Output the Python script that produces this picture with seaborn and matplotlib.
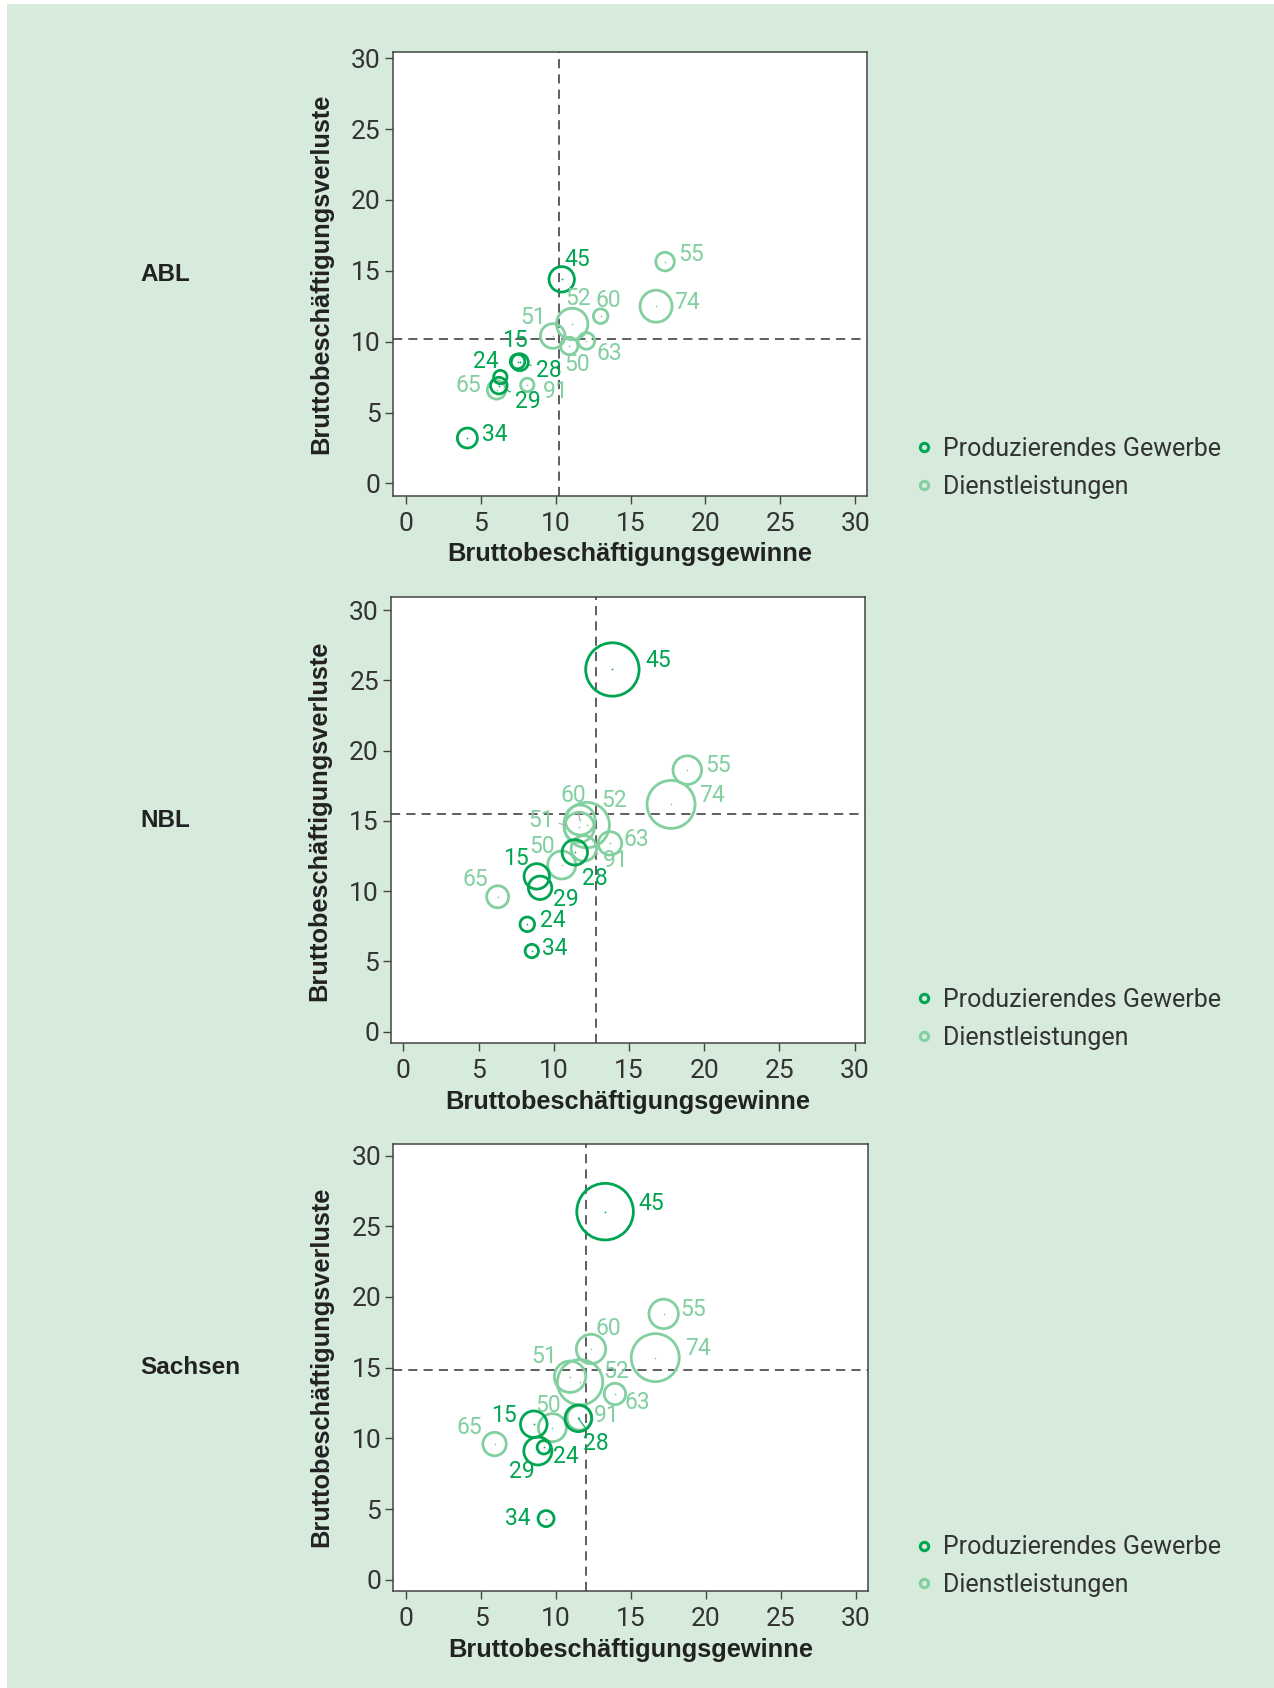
import numpy as np
import pandas as pd
import matplotlib.pyplot as plt
import seaborn as sns
from matplotlib.lines import Line2D
from matplotlib.patches import Rectangle

# WZ-Abteilungen und Sektorzuordnung
codes = ["15", "24", "28", "29", "34", "45", "50", "51", "52", "55", "60", "63", "65", "74", "91"]
sektor = ["Produzierendes Gewerbe"] * 6 + ["Dienstleistungen"] * 9

# ABL
abl_gewinne = [7.45, 6.3, 7.6, 6.2, 4.1, 10.4, 10.9, 9.8, 11.1, 17.3, 13.0, 12.05, 6.05, 16.7, 8.1]
abl_verluste = [8.6, 7.5, 8.55, 6.9, 3.2, 14.4, 9.7, 10.4, 11.25, 15.65, 11.8, 10.05, 6.6, 12.5, 6.95]
abl_gewicht = [7.3, 6.7, 8.5, 8.3, 10.0, 12.7, 8.7, 12.3, 15.7, 9.3, 7.3, 8.3, 9.3, 16.0, 6.7]
abl_mittel = (10.2, 10.2)

# NBL
nbl_gewinne = [8.87, 8.24, 11.4, 9.09, 8.54, 13.9, 10.53, 11.7, 12.19, 18.88, 11.75, 13.74, 6.27, 17.8, 12.0]
nbl_verluste = [11.05, 7.64, 12.76, 10.24, 5.74, 25.77, 11.86, 14.54, 14.7, 18.61, 15.06, 13.4, 9.6, 16.17, 13.04]
nbl_gewicht = [12.7, 7.3, 12.7, 11.7, 6.7, 26.7, 14.0, 15.0, 22.7, 14.3, 15.0, 11.7, 11.0, 24.0, 12.7]
nbl_mittel = (12.8, 15.5)

# Sachsen
sn_gewinne = [8.51, 9.18, 11.49, 8.78, 9.33, 13.27, 9.75, 10.93, 11.6, 17.18, 12.33, 13.93, 5.89, 16.62, 11.55]
sn_verluste = [11.0, 9.37, 11.42, 9.11, 4.33, 26.03, 10.76, 14.36, 13.97, 18.8, 16.32, 13.14, 9.6, 15.71, 11.46]
sn_gewicht = [13.3, 6.7, 13.3, 14.0, 8.0, 28.3, 14.0, 15.7, 22.7, 14.7, 14.7, 10.7, 11.7, 24.0, 12.3]
sn_mittel = (12.0, 14.85)

DUNKEL = "#00a551"
HELL = "#82cfa0"
farben = {"Produzierendes Gewerbe": DUNKEL, "Dienstleistungen": HELL}
HINTERGRUND = "#d7ebdd"

# Beschriftungs-Versatz in Pixeln: (dx, dy, ha, Hinweislinie)
lab_abl = {"15": (-3, 21, "center", False), "24": (-2, 16, "right", True), "28": (16, -8, "left", True),
           "29": (16, -16, "left", True), "34": (15, 4, "left", False), "45": (3, 20, "left", False),
           "50": (-5, -19, "left", False), "51": (-7, 19, "right", False), "52": (-7, 25, "left", False),
           "55": (13, 7, "left", False), "60": (-5, 16, "left", False), "63": (10, -13, "left", False),
           "65": (-15, 4, "right", False), "74": (18, 4, "left", False), "91": (16, -7, "left", False)}
lab_nbl = {"15": (-8, 18, "right", False), "24": (13, 4, "left", False), "28": (7, -26, "left", True),
           "29": (13, -12, "left", False), "34": (10, 3, "left", False), "45": (33, 9, "left", False),
           "50": (-7, 18, "right", False), "51": (-25, 7, "right", True), "52": (15, 25, "left", False),
           "55": (18, 5, "left", False), "60": (-7, 25, "center", True), "63": (14, 4, "left", False),
           "65": (-9, 17, "right", False), "74": (28, 9, "left", False), "91": (19, -12, "left", True)}
lab_sn = {"15": (-17, 9, "right", False), "24": (9, -9, "left", False), "28": (5, -25, "left", True),
          "29": (-16, -21, "center", False), "34": (-15, 0, "right", False), "45": (33, 8, "left", False),
          "50": (-4, 22, "center", False), "51": (-13, 20, "right", False), "52": (23, 11, "left", False),
          "55": (17, 4, "left", False), "60": (4, 21, "left", False), "63": (10, -9, "left", False),
          "65": (-12, 17, "right", False), "74": (30, 9, "left", False), "91": (15, 2, "left", False)}

panels = [
    ("ABL", abl_gewinne, abl_verluste, abl_gewicht, abl_mittel, lab_abl,
     [0.3082, 0.7063, 0.3725, 0.2627], (-0.89, 30.8), (-0.875, 30.42), 0.7227),
    ("NBL", nbl_gewinne, nbl_verluste, nbl_gewicht, nbl_mittel, lab_nbl,
     [0.3067, 0.3819, 0.3723, 0.2642], (-0.84, 30.7), (-0.83, 30.9), 0.3963),
    ("Sachsen", sn_gewinne, sn_verluste, sn_gewicht, sn_mittel, lab_sn,
     [0.3085, 0.0577, 0.3725, 0.2648], (-0.89, 30.8), (-0.76, 30.84), 0.0722),
]

sns.set_theme(style="white")
plt.rcParams["font.family"] = ["Roboto", "DejaVu Sans"]

fig = plt.figure(figsize=(12.74, 16.88), dpi=100)
fig.patch.set_facecolor("white")
fig.patches.append(Rectangle((7 / 1274, 0), 1, 1 - 4 / 1688, transform=fig.transFigure,
                             facecolor=HINTERGRUND, edgecolor="none", zorder=-10))

px2pt = 72 / fig.dpi

for name, gew, verl, gewicht, mittel, labs, rect, xlim, ylim, leg_y in panels:
    ax = fig.add_axes(rect)
    ax.set_facecolor("white")
    df = pd.DataFrame({"code": codes, "sektor": sektor, "gewinne": gew,
                       "verluste": verl, "gewicht": gewicht})

    ax.axvline(mittel[0], color="#333333", lw=1.1, ls=(0, (6, 4)), zorder=1)
    ax.axhline(mittel[1], color="#333333", lw=1.1, ls=(0, (6, 4)), zorder=1)

    for sek in ["Dienstleistungen", "Produzierendes Gewerbe"]:
        sub = df[df["sektor"] == sek]
        s = (2 * sub["gewicht"].to_numpy() * px2pt) ** 2
        n0 = len(ax.collections)
        sns.scatterplot(data=sub, x="gewinne", y="verluste", s=s, color=farben[sek],
                        legend=False, ax=ax, zorder=3)
        coll = ax.collections[n0]
        coll.set_facecolor("none")
        coll.set_edgecolor(farben[sek])
        coll.set_linewidth(2.0)
        # kleiner Mittelpunkt
        sns.scatterplot(data=sub, x="gewinne", y="verluste", s=1.5, color=farben[sek],
                        linewidth=0, legend=False, ax=ax, zorder=4)

    for _, row in df.iterrows():
        dx, dy, ha, linie = labs[row["code"]]
        col = farben[row["sektor"]]
        arrow = None
        if linie:
            arrow = dict(arrowstyle="-", lw=0.8,
                         color=DUNKEL if row["sektor"] == "Produzierendes Gewerbe" else "#aaaaaa",
                         shrinkA=1, shrinkB=row["gewicht"] * px2pt * 0.9)
        ax.annotate(row["code"], (row["gewinne"], row["verluste"]), xytext=(dx, dy),
                    textcoords="offset pixels", ha=ha, va="center", fontsize=16.5,
                    fontweight="normal", color=col, arrowprops=arrow, zorder=5)

    ax.set_xlim(*xlim)
    ax.set_ylim(*ylim)
    ax.set_xticks(range(0, 31, 5))
    ax.set_yticks(range(0, 31, 5))
    ax.tick_params(axis="x", length=5.5, width=1, color="#444444", pad=6, labelsize=19,
                   labelcolor="#333333", bottom=True)
    ax.tick_params(axis="y", length=5.5, width=1, color="#444444", pad=3, labelsize=19,
                   labelcolor="#333333", left=True)
    for sp in ax.spines.values():
        sp.set_color("#444444")
        sp.set_linewidth(1.1)

    ax.set_xlabel("Bruttobeschäftigungsgewinne", fontsize=18.3, fontweight="bold",
                  family="Liberation Sans", color="#222222")
    ax.set_ylabel("Bruttobeschäftigungsverluste", fontsize=18.3, fontweight="bold",
                  family="Liberation Sans", color="#222222")
    ax.xaxis.set_label_coords(0.5, -0.105)
    ax.yaxis.set_label_coords(-0.125, 0.5)

    yc = rect[1] + rect[3] / 2
    fig.text(140 / 1274, yc, name, fontsize=17.5, fontweight="bold", family="Liberation Sans",
             color="#222222", ha="left", va="center")

    handles = [Line2D([], [], ls="none", marker="o", markersize=6, markerfacecolor="none",
                      markeredgecolor=farben[k], markeredgewidth=2.2) for k in farben]
    fig.legend(handles, list(farben), loc="center left", bbox_to_anchor=(914 / 1274, leg_y),
               bbox_transform=fig.transFigure, frameon=False, fontsize=18,
               handlelength=0.8, handletextpad=0.35, labelspacing=0.55, borderpad=0,
               borderaxespad=0, labelcolor="#333333")

fig.savefig("out.png", dpi=100, facecolor=fig.get_facecolor())
